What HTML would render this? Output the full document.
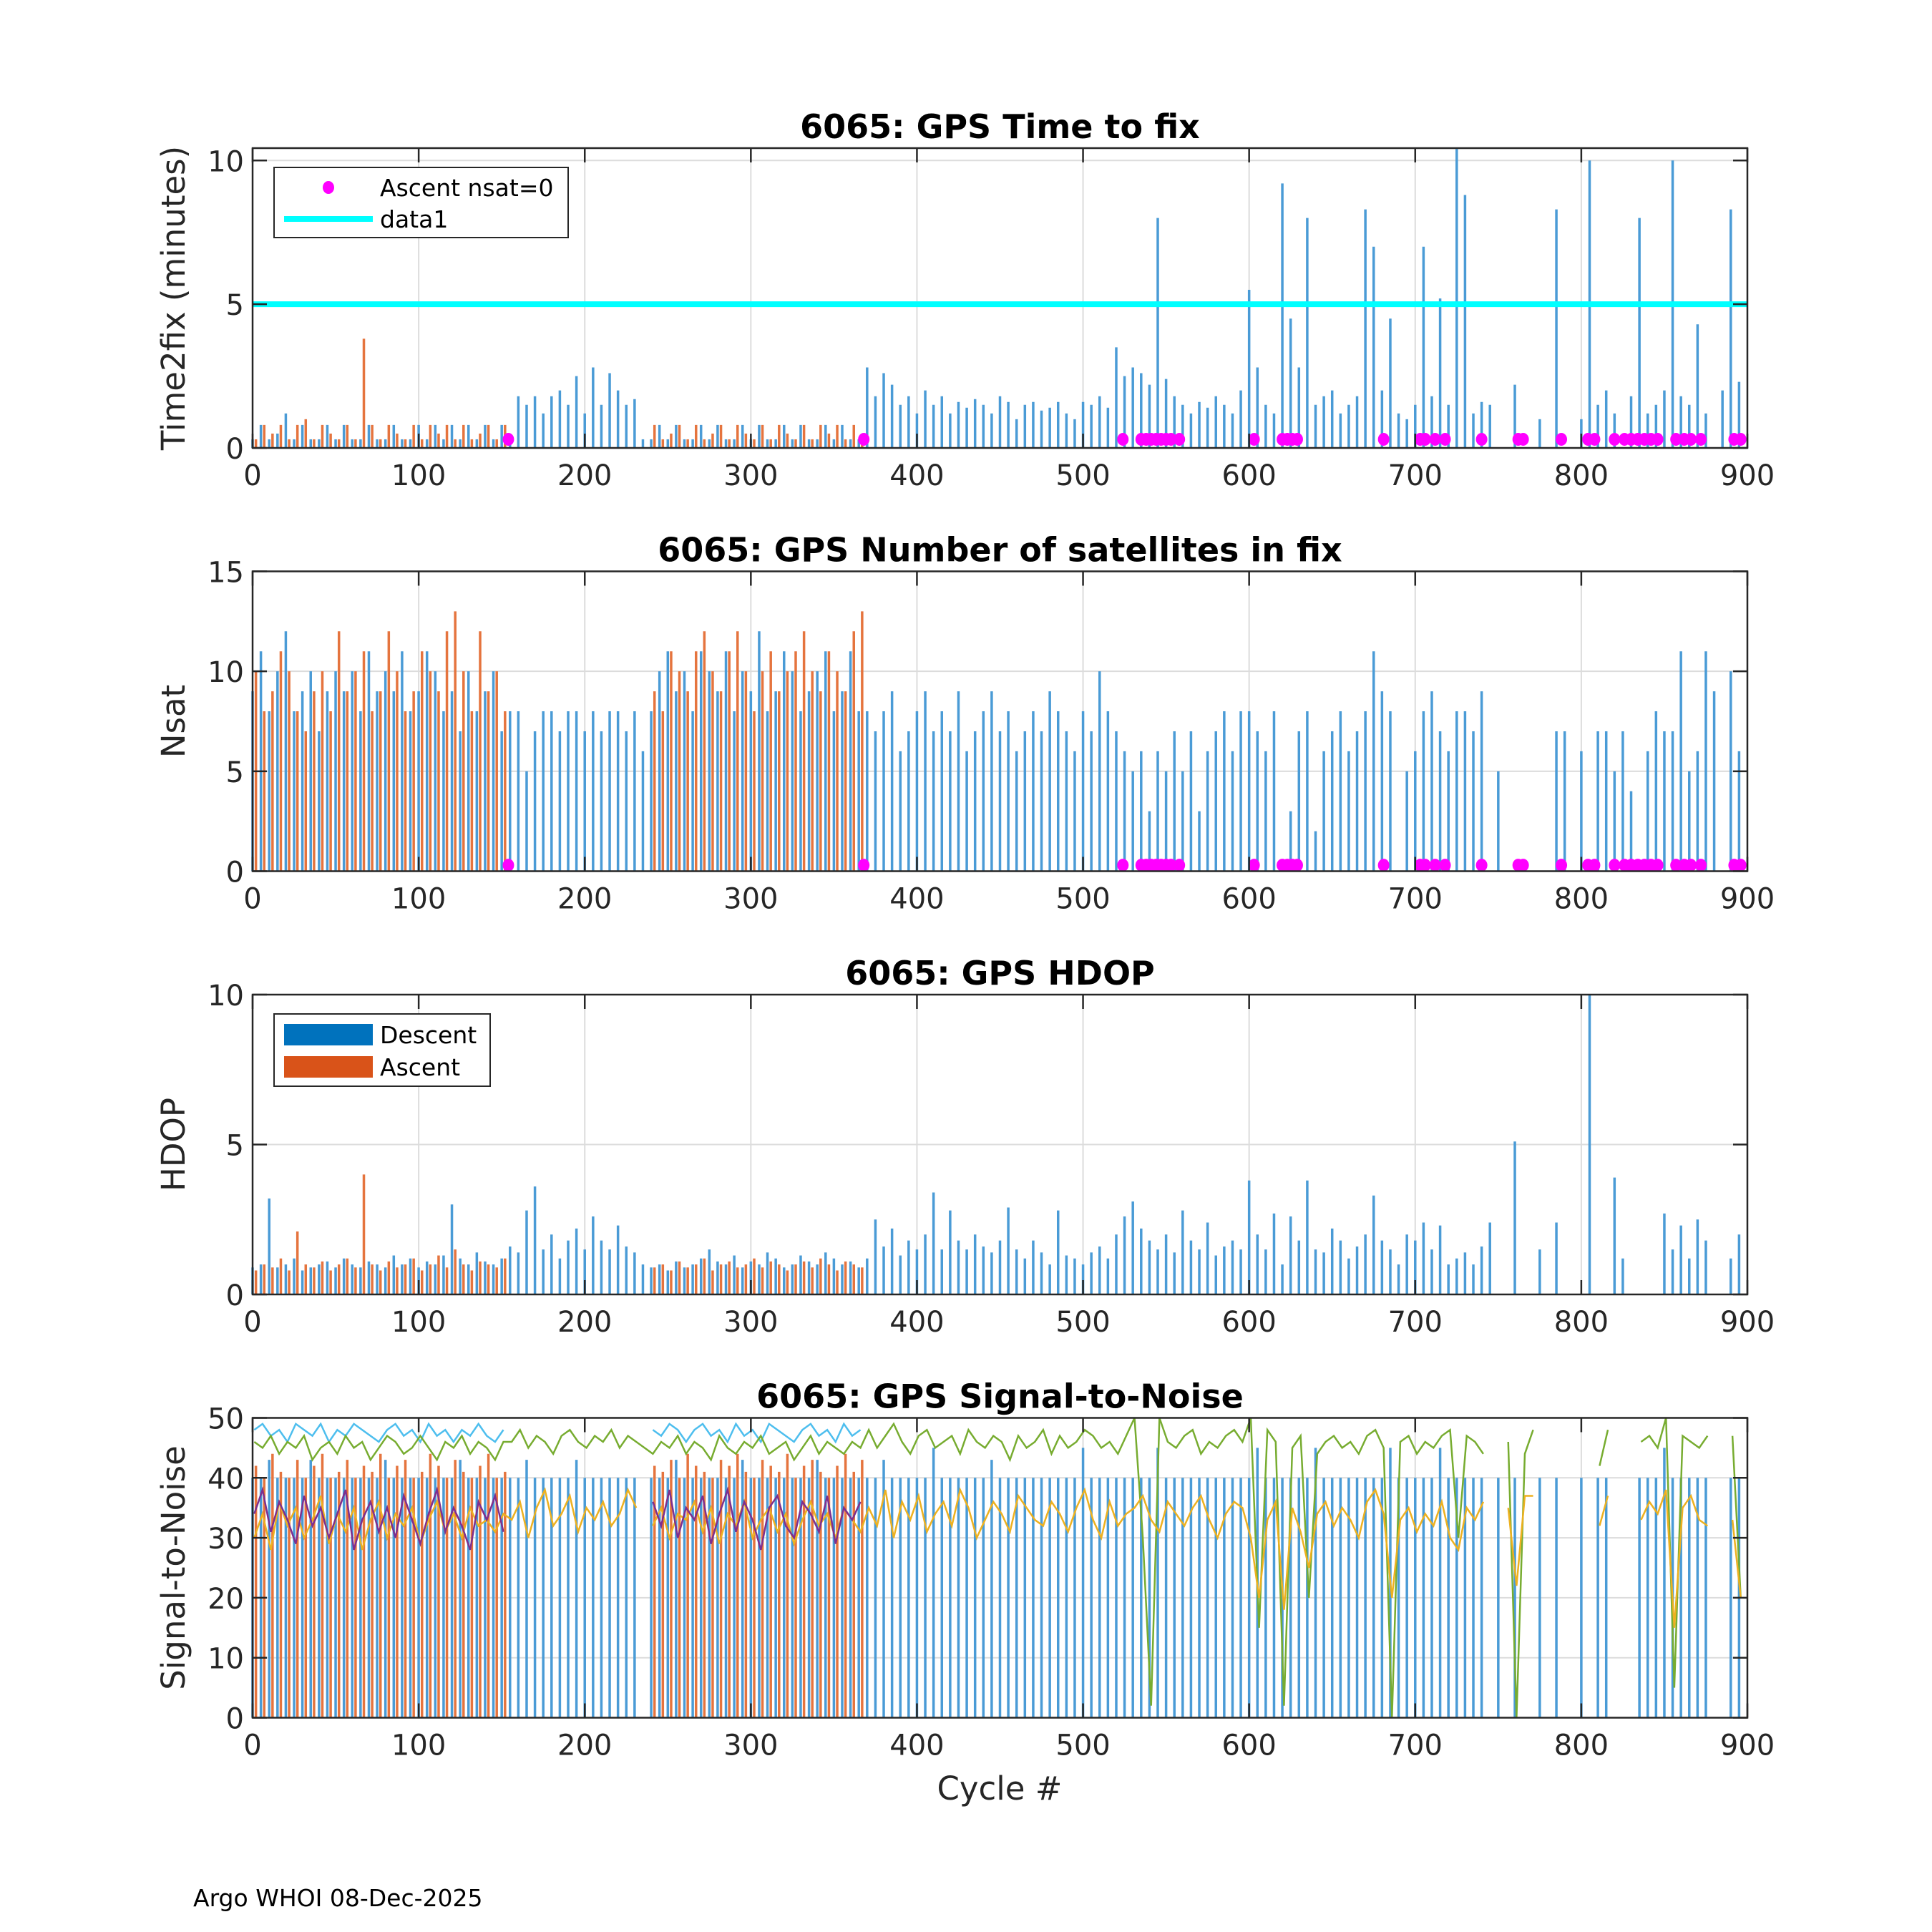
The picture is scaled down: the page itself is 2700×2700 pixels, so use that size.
<!DOCTYPE html>
<html><head><meta charset="utf-8"><style>
html,body{margin:0;padding:0;background:#fff;}
svg{display:block;font-family:"DejaVu Sans","Liberation Sans",sans-serif;}
</style></head><body>
<svg id="fig" width="2700" height="2700" viewBox="0 0 2700 2700" xmlns="http://www.w3.org/2000/svg">
<rect width="2700" height="2700" fill="#fff"/>
<text x="270" y="2664" font-size="33" fill="#000">Argo WHOI 08-Dec-2025</text>
<text x="1397" y="2515" font-size="45" text-anchor="middle" fill="#262626">Cycle #</text>
</svg>
<script>
const xTicks=[0,100,200,300,400,500,600,700,800,900];
const t2fDesc=[0.3,0.8,0.3,0.5,1.2,0.3,0.8,0.3,0.3,0.8,0.3,0.8,0.3,0.3,0.8,0.3,0.3,0.8,0.3,0.3,0.8,0.3,0.8,0.3,0.8,0.3,0.8,0.3,0.8,0.3,0.8,
0.3,1.8,1.5,1.8,1.2,1.8,2.0,1.5,2.5,1.2,2.8,1.5,2.6,2.0,1.5,1.7,0.3,
0.3,0.8,0.3,0.8,0.3,0.3,0.8,0.3,0.8,0.3,0.3,0.8,0.3,0.8,0.3,0.3,0.8,0.3,0.8,0.3,0.3,0.8,0.3,0.8,0.3,0.3,
2.8,1.8,2.6,2.2,1.5,1.8,1.2,2.0,1.5,1.8,1.2,1.6,1.4,1.7,1.5,1.2,1.8,1.6,1.0,1.5,1.6,1.3,1.4,1.6,1.2,1.0,1.6,1.5,1.8,1.4,3.5,2.5,2.8,2.6,2.2,8.0,2.4,1.8,1.5,1.2,1.6,1.4,1.8,1.5,1.2,2.0,
5.5,2.8,1.5,1.2,9.2,4.5,2.8,8.0,1.5,1.8,2.0,1.2,1.5,1.8,8.3,7.0,2.0,4.5,1.2,1.0,1.5,7.0,1.8,5.2,1.5,10.4,8.8,1.2,1.6,1.5,0,0,2.2,0,0,1.0,0,8.3,0,0,1.0,10,1.5,2.0,1.2,0,1.8,8.0,1.2,1.5,2.0,10,1.8,1.5,4.3,1.2,0,2.0,8.3,2.3];
const t2fAsc=[0.3,0.8,0.5,0.8,0.3,0.8,1.0,0.3,0.8,0.5,0.3,0.8,0.3,3.8,0.8,0.3,0.8,0.5,0.3,0.8,0.3,0.8,0.5,0.8,0.3,0.8,0.3,0.5,0.8,0.3,0.8,
0,0,0,0,0,0,0,0,0,0,0,0,0,0,0,0,0,
0.8,0.3,0.5,0.8,0.3,0.8,0.3,0.5,0.8,0.3,0.8,0.5,0.3,0.8,0.3,0.8,0.5,0.3,0.8,0.3,0.8,0.5,0.8,0.3,0.8,0.3];
const zeroNsatCycles=[154,368,524,535,538,541,544,547,550,553,558,603,620,623,626,629,681,703,706,712,718,740,762,765,788,804,808,820,826,830,834,838,842,846,857,862,866,872,892,896];
const nsatDesc=[9,11,8,10,12,8,9,10,7,9,10,9,10,8,11,9,10,9,11,8,9,11,10,8,9,7,10,8,9,10,7,
8,8,5,7,8,8,7,8,8,7,8,7,8,8,7,8,6,
8,10,11,9,10,8,11,10,9,11,8,10,9,12,8,9,11,10,8,9,10,11,8,9,11,8,
8,7,8,9,6,7,8,9,7,8,7,9,6,7,8,9,7,8,6,7,8,7,9,8,7,6,8,7,10,8,7,6,5,6,3,6,5,7,5,7,3,6,7,8,6,8,
8,7,6,8,0,3,7,8,2,6,7,8,6,7,8,11,9,8,0,5,6,8,9,7,6,8,8,7,9,0,5,0,0,0,0,0,0,7,7,0,6,0,7,7,5,7,4,0,6,8,7,7,11,5,6,11,9,0,10,6];
const nsatAsc=[10,8,9,11,10,8,7,9,10,8,12,9,10,11,8,9,12,10,8,9,11,10,9,12,13,10,8,12,9,10,8,
0,0,0,0,0,0,0,0,0,0,0,0,0,0,0,0,0,
9,8,11,10,9,11,12,10,9,11,12,10,8,10,11,9,10,11,12,10,9,11,10,9,12,13];
const hdopDesc=[0.9,1.0,3.2,0.9,1.0,1.2,0.8,0.9,1.0,1.1,0.9,1.2,1.0,0.9,1.1,1.0,0.9,1.3,1.0,1.2,0.9,1.1,1.0,1.3,3.0,1.2,1.0,1.4,1.1,1.0,1.2,
1.6,1.4,2.8,3.6,1.5,2.0,1.2,1.8,2.2,1.5,2.6,1.8,1.5,2.3,1.6,1.4,1.0,
0.9,1.0,0.8,1.1,0.9,1.0,1.2,1.5,1.1,1.0,1.3,0.9,1.1,1.0,1.4,1.2,0.9,1.0,1.3,1.1,1.0,1.4,1.2,1.0,1.1,0.9,
1.2,2.5,1.6,2.2,1.3,1.8,1.5,2.0,3.4,1.5,2.8,1.8,1.5,2.0,1.6,1.4,1.8,2.9,1.5,1.2,1.8,1.4,1.0,2.8,1.3,1.2,1.0,1.4,1.6,1.2,2.0,2.6,3.1,2.2,1.8,1.5,2.0,1.4,2.8,1.8,1.5,2.4,1.3,1.6,1.8,1.5,
3.8,2.0,1.5,2.7,1.0,2.6,1.8,3.8,1.5,1.4,2.2,1.8,1.2,1.6,2.0,3.3,1.8,1.5,1.0,2.0,1.8,2.4,1.5,2.3,1.0,1.2,1.4,1.0,1.6,2.4,0,0,5.1,0,0,1.5,0,2.4,0,0,0,10,0,0,3.9,1.2,0,0,0,0,2.7,1.5,2.3,1.2,2.5,1.8,0,0,1.2,2.0];
const hdopAsc=[0.8,1.0,0.9,1.2,0.8,2.1,1.0,0.9,1.1,0.8,1.0,1.2,0.9,4.0,1.0,0.8,1.1,0.9,1.0,1.2,0.8,1.0,1.3,0.9,1.5,1.0,0.8,1.1,1.0,0.9,1.2,
0,0,0,0,0,0,0,0,0,0,0,0,0,0,0,0,0,
0.9,1.0,0.8,1.1,0.9,1.0,1.2,0.8,1.0,1.1,0.9,1.0,1.2,0.9,1.1,1.0,0.8,1.0,1.1,0.9,1.2,1.0,0.8,1.1,1.0,0.9];
const snrBarDesc=[40,40,43,40,40,40,40,43,40,40,40,40,40,40,40,40,43,40,40,40,40,40,40,40,40,43,40,40,40,40,40,
40,40,43,40,40,40,40,40,43,40,40,40,40,40,40,40,0,
40,40,40,43,40,40,40,40,40,40,40,43,40,40,40,40,40,40,40,40,43,40,40,40,40,40,
40,40,43,40,40,40,40,40,45,40,40,40,40,40,40,43,40,40,40,40,40,40,40,40,40,40,45,40,40,40,40,40,40,40,40,45,40,40,40,40,40,40,40,40,40,40,
40,45,40,40,40,40,40,40,45,40,40,40,40,40,40,40,40,45,40,40,40,40,40,45,40,40,40,40,40,0,40,0,40,0,0,40,0,40,0,0,40,0,40,40,0,0,0,40,40,40,45,40,40,40,40,40,0,0,40,40];
const snrBarAsc=[42,40,44,41,40,43,40,42,44,40,41,43,40,42,41,44,40,42,43,40,41,44,42,40,43,41,40,42,44,40,41,
0,0,0,0,0,0,0,0,0,0,0,0,0,0,0,0,0,
42,41,43,40,44,42,41,40,43,42,44,41,40,43,42,41,44,40,42,43,41,40,42,44,41,43];
const snrCyan=[48,49,47,48,46,49,48,47,49,46,48,47,49,48,47,46,48,49,47,48,46,49,47,48,46,48,47,49,47,46,48,
-1,-1,-1,-1,-1,-1,-1,-1,-1,-1,-1,-1,-1,-1,-1,-1,-1,
48,47,49,48,46,48,49,47,48,46,49,47,48,46,49,48,47,46,48,49,47,48,46,49,47,48];
const snrGreen=[46,45,47,44,46,45,47,43,45,46,44,47,45,46,43,45,47,46,44,45,47,45,43,46,45,47,44,46,45,43,46,
46,48,45,47,46,44,47,48,46,45,47,46,48,45,47,46,45,
44,46,45,47,44,46,45,43,47,45,44,46,45,47,44,45,46,43,45,47,44,46,45,44,46,45,
48,45,47,49,46,44,47,48,45,46,47,44,48,46,45,47,46,43,47,45,46,48,44,47,45,46,48,47,45,46,44,47,50,30,2,50,46,45,47,48,44,46,45,47,48,46,
50,15,48,46,2,45,47,20,44,46,47,45,46,44,47,48,45,0,46,47,44,46,45,47,48,30,47,46,44,-1,-1,46,0,44,48,-1,50,-1,-1,-1,46,-1,42,48,-1,-1,-1,46,47,45,50,5,47,46,45,47,-1,-1,47,20];
const snrYellow=[30,34,28,36,32,35,30,33,37,29,34,31,35,28,33,36,30,34,32,35,29,33,36,31,34,30,35,32,33,31,34,
33,36,30,35,38,32,34,37,31,35,33,36,32,34,38,35,-1,
32,35,30,34,33,36,31,35,29,34,32,36,30,33,35,31,34,29,33,36,32,34,30,35,33,31,
35,32,38,30,36,33,37,31,34,36,32,38,35,30,33,36,34,31,37,35,33,32,36,34,31,35,38,33,30,36,32,34,35,37,33,31,36,34,32,35,37,33,30,34,36,35,
30,20,33,36,18,35,31,25,34,36,32,35,33,30,36,38,34,20,33,35,31,34,32,36,30,28,35,33,36,-1,-1,35,22,37,37,-1,37,-1,-1,-1,34,-1,32,37,-1,-1,-1,33,36,34,38,15,35,37,33,32,-1,-1,33,20];
const snrPurple=[34,38,31,36,33,29,37,32,35,30,34,38,28,33,36,31,35,30,37,33,29,34,38,31,35,32,28,36,33,37,31,
-1,-1,-1,-1,-1,-1,-1,-1,-1,-1,-1,-1,-1,-1,-1,-1,-1,
36,32,38,30,35,33,37,29,34,38,31,36,33,28,35,37,32,30,36,34,31,37,29,35,33,36];
const STEP=5;

const SVG='http://www.w3.org/2000/svg';
const fig=document.getElementById('fig');
const L=353,R=2442;
function mk(tag,attrs,parent){const e=document.createElementNS(SVG,tag);for(const k in attrs)e.setAttribute(k,attrs[k]);(parent||fig).appendChild(e);return e;}
function xs(c){return L+(c/900)*(R-L);}

function panel(idx,title,ylab,ymax,yticks){
  const top=207+591.5*idx,bot=top+419;
  const g=mk('g',{});
  
  
  const ys=v=>bot-(v/ymax)*(bot-top);
  const grid=mk('g',{},g);
  
  
  xTicks.forEach(t=>{mk('line',{x1:xs(t),x2:xs(t),y1:top,y2:bot,stroke:'#dcdcdc','stroke-width':2},grid);});
  yticks.forEach(t=>{mk('line',{x1:L,x2:R,y1:ys(t),y2:ys(t),stroke:'#dcdcdc','stroke-width':2},grid);});
  const plot=mk('g',{},g);
  
  
  return {g,plot,top,bot,ys,finish(){
    const ax=mk('g',{},g);
    
    
    mk('rect',{x:L,y:top,width:R-L,height:bot-top,fill:'none',stroke:'#262626','stroke-width':2.5},ax);
    xTicks.forEach(t=>{
      mk('line',{x1:xs(t),x2:xs(t),y1:bot,y2:bot-20,stroke:'#262626','stroke-width':2.5},ax);
      mk('line',{x1:xs(t),x2:xs(t),y1:top,y2:top+20,stroke:'#262626','stroke-width':2.5},ax);
      const tx=mk('text',{x:xs(t),y:bot+52,'font-size':40,'text-anchor':'middle',fill:'#262626'},ax);
      tx.textContent=t;
      
      
    });
    yticks.forEach(t=>{
      mk('line',{x1:L,x2:L+20,y1:ys(t),y2:ys(t),stroke:'#262626','stroke-width':2.5},ax);
      mk('line',{x1:R,x2:R-20,y1:ys(t),y2:ys(t),stroke:'#262626','stroke-width':2.5},ax);
      const tx=mk('text',{x:L-12,y:ys(t)+15,'font-size':40,'text-anchor':'end',fill:'#262626'},ax);
      tx.textContent=t;
      
      
    });
    const tt=mk('text',{x:(L+R)/2,y:top-14,'font-size':46,'font-weight':'bold','text-anchor':'middle',fill:'#000'},g);
    tt.textContent=title;
    
    
    const yl=mk('text',{x:0,y:0,'font-size':45,'text-anchor':'middle',fill:'#262626',transform:`translate(258,${(top+bot)/2}) rotate(-90)`},g);
    yl.textContent=ylab;
    
    
  }};
}
function bars(p,arr,off,color,name,ymax){
  arr.forEach((v,i)=>{ if(v<=0)return;
    const b=mk('line',{x1:xs(i*STEP+off),x2:xs(i*STEP+off),y1:p.bot,y2:p.ys(Math.min(v,ymax)),stroke:color,'stroke-width':3.5},p.plot);
    
    
  });
}
function line(p,arr,color,name,w){
  let segs=[],cur=[];
  arr.forEach((v,i)=>{ if(v<0){if(cur.length)segs.push(cur);cur=[];return;} cur.push(xs(i*STEP+1)+','+p.ys(v)); });
  if(cur.length)segs.push(cur);
  segs.forEach(s=>{ const pl=mk('polyline',{points:s.join(' '),fill:'none',stroke:color,'stroke-width':w||2.5},p.plot);
    
    });
}
function dots(p,val){
  zeroNsatCycles.forEach(c=>{const d=mk('ellipse',{cx:xs(c),cy:p.ys(val),rx:8,ry:9,fill:'#ff00ff'},p.plot);
    
    });
}
const BLUE='#4a9bd6',ORANGE='#e5743e';
const p1=panel(0,'6065: GPS Time to fix','Time2fix (minutes)',10.43,[0,5,10]);
bars(p1,t2fDesc,0,BLUE,'bar-time2fix-descent',10.43);
bars(p1,t2fAsc,2,ORANGE,'bar-time2fix-ascent',10.43);
const thr=mk('line',{x1:L,x2:R,y1:p1.ys(5),y2:p1.ys(5),stroke:'#00ffff','stroke-width':8},p1.plot);


dots(p1,0.3);
p1.finish();
const p2=panel(1,'6065: GPS Number of satellites in fix','Nsat',15,[0,5,10,15]);
bars(p2,nsatDesc,0,BLUE,'bar-nsat-descent',15);
bars(p2,nsatAsc,2,ORANGE,'bar-nsat-ascent',15);
dots(p2,0.3);
p2.finish();
const p3=panel(2,'6065: GPS HDOP','HDOP',10,[0,5,10]);
bars(p3,hdopDesc,0,BLUE,'bar-hdop-descent',10);
bars(p3,hdopAsc,2,ORANGE,'bar-hdop-ascent',10);
p3.finish();
const p4=panel(3,'6065: GPS Signal-to-Noise','Signal-to-Noise',50,[0,10,20,30,40,50]);
bars(p4,snrBarDesc,0,BLUE,'bar-snr-descent',50);
bars(p4,snrBarAsc,2,ORANGE,'bar-snr-ascent',50);
line(p4,snrCyan,'#4dbeee','line-snr-ascent-max');
line(p4,snrGreen,'#77ac30','line-snr-descent-max');
line(p4,snrYellow,'#edb120','line-snr-descent-mean');
line(p4,snrPurple,'#7e2f8e','line-snr-ascent-mean');
p4.finish();

function legendBox(x,y,w,h,name){const r=mk('rect',{x,y,width:w,height:h,fill:'#fff',stroke:'#262626','stroke-width':2});}
legendBox(383,234,411,98,'legend-time2fix');
let d=mk('ellipse',{cx:459,cy:262,rx:8,ry:9,fill:'#ff00ff'});


let t=mk('text',{x:531,y:274,'font-size':33,fill:'#000'});t.textContent='Ascent nsat=0';


let ln=mk('line',{x1:397,x2:521,y1:306,y2:306,stroke:'#00ffff','stroke-width':8});


t=mk('text',{x:531,y:318,'font-size':33,fill:'#000'});t.textContent='data1';


legendBox(383,1417,302,101,'legend-hdop');
let s=mk('rect',{x:397,y:1431,width:124,height:30,fill:'#0072bd'});


t=mk('text',{x:531,y:1458,'font-size':33,fill:'#000'});t.textContent='Descent';


s=mk('rect',{x:397,y:1476,width:124,height:30,fill:'#d95319'});


t=mk('text',{x:531,y:1503,'font-size':33,fill:'#000'});t.textContent='Ascent';


</script>
</body></html>
